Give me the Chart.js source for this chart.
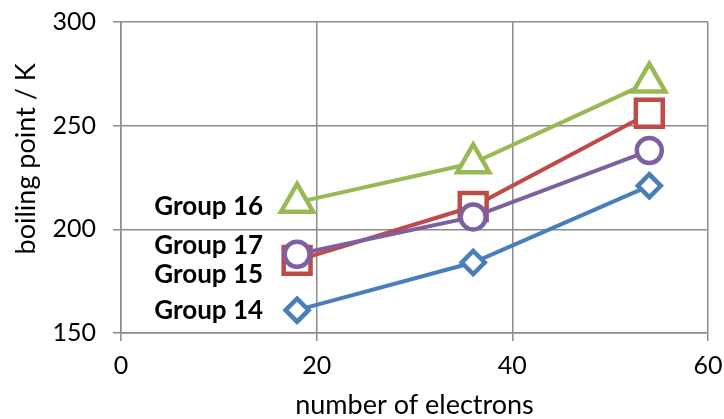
<!DOCTYPE html>
<html>
<head>
<meta charset="utf-8">
<script src="https://cdn.jsdelivr.net/npm/chart.js@4/dist/chart.umd.min.js"></script>
<style>
  html, body { margin: 0; padding: 0; background: #ffffff; }
  #wrap { width: 724px; height: 419px; }
</style>
</head>
<body>
<div id="wrap"><canvas id="c" width="724" height="419"></canvas></div>
<script>
// Number of electrons in the hydride of the period 3, 4 and 5 element
const electrons = [18, 36, 54];

// Boiling points (K) of the hydrides for each group
const group14 = [161, 184, 221];
const group15 = [185, 211, 256];
const group16 = [213, 232, 271];
const group17 = [188, 206, 238];

const seriesNames = ['Group 14', 'Group 15', 'Group 16', 'Group 17'];

// Where each group's name sits (x in electrons, y in K)
const nameX = [18, 18, 18, 18];
const nameY = [161, 178, 211, 192];

// Axis ranges and ticks
const xTicks = [0, 20, 40, 60];
const yTicks = [150, 200, 250, 300];

const xTitle = 'number of electrons';
const yTitle = 'boiling point / K';

const FONT = 'Lato, "Open Sans", "DejaVu Sans", sans-serif';
const GRID = '#8c8c8c';

function pts(ys) {
  return electrons.map((x, i) => ({ x: x, y: ys[i] }));
}

const styles = [
  { color: '#4a7ebb', shape: 'rectRot', radius: 11.5 },
  { color: '#be4b48', shape: 'rect', radius: 19 },
  { color: '#98b954', shape: 'triangle', radius: 18.5 },
  { color: '#7d60a0', shape: 'circle', radius: 12.5 }
];

const values = [group14, group15, group16, group17];

const datasets = values.map((v, i) => ({
  label: seriesNames[i],
  data: pts(v),
  borderColor: styles[i].color,
  backgroundColor: '#ffffff',
  borderWidth: 4,
  pointStyle: styles[i].shape,
  pointRadius: styles[i].radius,
  pointBorderWidth: 4.5,
  pointBackgroundColor: '#ffffff',
  pointBorderColor: styles[i].color,
  showLine: true,
  tension: 0,
  order: 4 - i
}));

// Writes the group names beside the first points
const groupNames = {
  id: 'groupNames',
  afterDatasetsDraw(chart) {
    const { ctx, scales } = chart;
    ctx.save();
    ctx.font = 'bold 26px ' + FONT;
    ctx.fillStyle = '#000000';
    ctx.textAlign = 'right';
    ctx.textBaseline = 'middle';
    seriesNames.forEach((name, i) => {
      const x = scales.x.getPixelForValue(nameX[i]) - 34;
      const y = scales.y.getPixelForValue(nameY[i]);
      ctx.fillText(name, x, y);
    });
    ctx.restore();
  }
};

// Vertical axis title, set a little above the middle of the plot
const yAxisTitle = {
  id: 'yAxisTitle',
  afterDraw(chart) {
    const { ctx, chartArea } = chart;
    ctx.save();
    ctx.font = '27px ' + FONT;
    ctx.fillStyle = '#000000';
    ctx.textAlign = 'center';
    ctx.textBaseline = 'middle';
    ctx.translate(26, chartArea.top + (chartArea.bottom - chartArea.top) * 0.44);
    ctx.rotate(-Math.PI / 2);
    ctx.fillText(yTitle, 0, 0);
    ctx.restore();
  }
};

new Chart(document.getElementById('c'), {
  type: 'scatter',
  data: { datasets: datasets },
  plugins: [groupNames, yAxisTitle],
  options: {
    responsive: false,
    animation: false,
    layout: { autoPadding: false, padding: { top: 22, right: 16, left: 0, bottom: 0 } },
    plugins: {
      legend: { display: false },
      tooltip: { enabled: false }
    },
    scales: {
      x: {
        type: 'linear',
        min: xTicks[0],
        max: xTicks[xTicks.length - 1],
        afterBuildTicks(axis) { axis.ticks = xTicks.map(v => ({ value: v })); },
        afterFit(axis) {
          axis.height = 86;
          axis.paddingLeft = 0;
          axis.paddingRight = 0;
        },
        grid: { color: GRID, lineWidth: 1.5, tickLength: 8, drawTicks: true },
        border: { color: GRID, width: 1.5 },
        ticks: { color: '#000000', font: { family: FONT, size: 25 }, padding: 10, maxRotation: 0 },
        title: {
          display: true,
          text: xTitle,
          color: '#000000',
          font: { family: FONT, size: 27, lineHeight: 1 },
          padding: 0
        }
      },
      y: {
        min: yTicks[0],
        max: yTicks[yTicks.length - 1],
        afterBuildTicks(axis) { axis.ticks = yTicks.map(v => ({ value: v })); },
        afterFit(axis) {
          axis.width = 121;
          axis.paddingTop = 0;
          axis.paddingBottom = 0;
        },
        grid: { color: GRID, lineWidth: 1.5, tickLength: 8, drawTicks: true },
        border: { color: GRID, width: 1.5 },
        ticks: { color: '#000000', font: { family: FONT, size: 25 }, padding: 17 },
        title: { display: false }
      }
    }
  }
});
</script>
</body>
</html>
